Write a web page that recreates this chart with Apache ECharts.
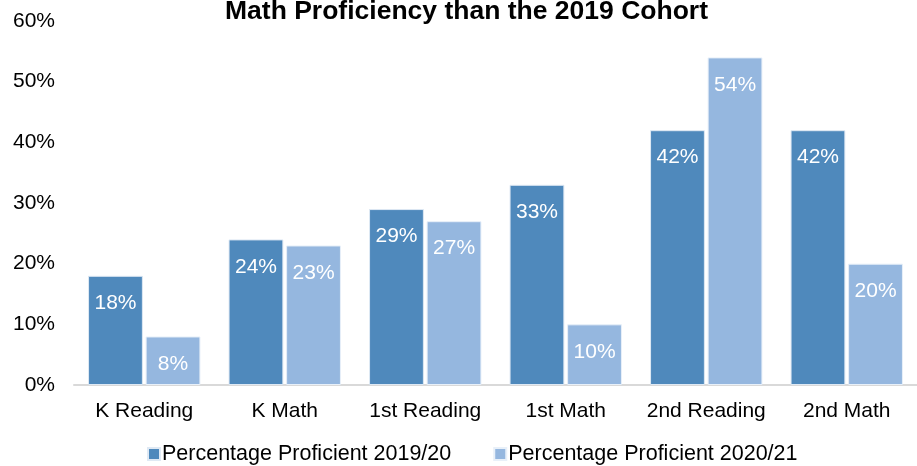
<!DOCTYPE html>
<html>
<head>
<meta charset="utf-8">
<script src="https://cdn.jsdelivr.net/npm/echarts@6/dist/echarts.min.js"></script>
<style>
  html, body { margin: 0; padding: 0; background: #fff; }
  #chart { width: 917px; height: 466px; }
</style>
</head>
<body>
<div id="chart"></div>
<script>
// Proficiency by grade and subject, two cohorts
const categories = ['K Reading', 'K Math', '1st Reading', '1st Math', '2nd Reading', '2nd Math'];
const cohort2019 = [18, 24, 29, 33, 42, 42];
const cohort2020 = [8, 23, 27, 10, 54, 20];
const seriesNames = ['Percentage Proficient 2019/20', 'Percentage Proficient 2020/21'];
const titleText = 'Math Proficiency than the 2019 Cohort';

const font = 'Liberation Sans, Arial, sans-serif';

const barLabel = {
  show: true,
  position: 'insideTop',
  distance: 17,
  color: '#fff',
  fontFamily: font,
  fontSize: 21,
  formatter: p => p.value + '%'
};

const chart = echarts.init(document.getElementById('chart'));
chart.setOption({
  animation: false,
  title: {
    text: titleText,
    left: 220,
    top: -7,
    textStyle: { fontFamily: font, fontSize: 26.5, fontWeight: 'bold', color: '#000' }
  },
  grid: { left: 74, right: 0, top: 21, bottom: 81 },
  legend: {
    bottom: -4,
    left: 142,
    itemWidth: 12,
    itemHeight: 12,
    itemGap: 42,
    icon: 'rect',
    textStyle: { fontFamily: font, fontSize: 21.5, color: '#000', padding: [0, 0, 0, -3] },
    data: seriesNames
  },
  xAxis: {
    type: 'category',
    data: categories,
    axisLine: { lineStyle: { color: '#d9d9d9', width: 2 } },
    axisTick: { show: false },
    axisLabel: { fontFamily: font, fontSize: 21, color: '#000', margin: 16, interval: 0 }
  },
  yAxis: {
    type: 'value',
    min: 0,
    max: 60,
    interval: 10,
    splitLine: { show: false },
    axisLine: { show: false },
    axisTick: { show: false },
    axisLabel: { fontFamily: font, fontSize: 21, color: '#000', margin: 19, formatter: v => v + '%' }
  },
  series: [
    {
      name: seriesNames[0],
      type: 'bar',
      data: cohort2019,
      barGap: '5%',
      barCategoryGap: '20%',
      itemStyle: { color: '#4F89BC', borderColor: '#dfe9f4', borderWidth: 1 },
      label: barLabel
    },
    {
      name: seriesNames[1],
      type: 'bar',
      data: cohort2020,
      itemStyle: { color: '#95B7DF', borderColor: '#e8f0f9', borderWidth: 1 },
      label: barLabel
    }
  ]
});
</script>
</body>
</html>
